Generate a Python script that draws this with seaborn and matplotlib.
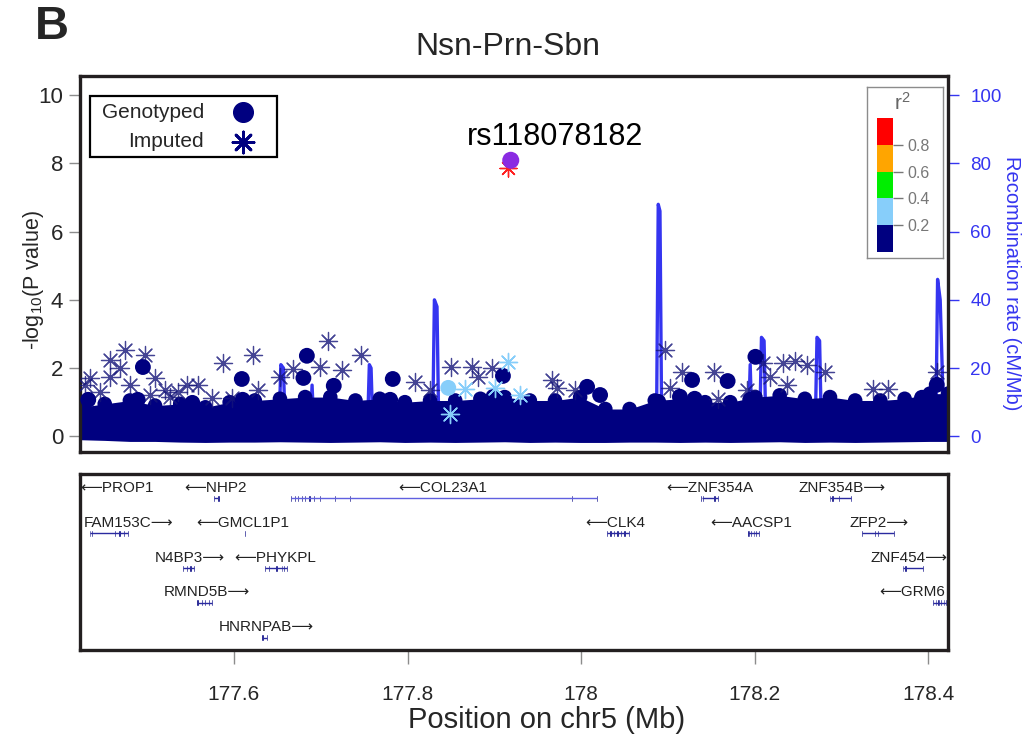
"""Regional association plot (LocusZoom style) for Nsn-Prn-Sbn on chr5."""

import matplotlib

matplotlib.use("Agg")
import matplotlib.pyplot as plt
import seaborn as sns
from matplotlib.patches import Rectangle

NAVY = "#000080"
STAR = "#15157a"
LIGHT = "#87CEFA"
RECOMB = "#3535F0"
GREY = "#8c8c8c"

# --- association results (position in Mb, -log10 P) -------------------------
genotyped_pos = [177.495, 177.684, 177.609, 177.680, 177.715, 177.783, 177.910, 177.899,
                 177.489, 177.610, 177.780, 177.552, 178.007, 178.128, 178.169, 178.201,
                 178.089, 178.114, 178.131, 178.410, 178.393, 178.195, 177.432, 178.022]
genotyped_logp = [2.03, 2.36, 1.68, 1.71, 1.48, 1.68, 1.77, 1.16,
                  1.07, 1.07, 1.07, 0.98, 1.45, 1.65, 1.62, 2.33,
                  1.01, 1.16, 1.10, 1.51, 1.13, 1.07, 1.07, 1.21]

imputed_pos = [177.474, 177.457, 177.497, 177.587, 177.622, 177.708, 177.746, 177.668,
               177.699, 177.725, 177.809, 177.850, 177.874, 177.881, 177.897, 177.434,
               177.457, 177.469, 177.546, 177.559, 177.526, 177.575, 177.598, 177.628,
               177.826, 177.653, 178.097, 177.967, 177.972, 177.993, 178.116, 178.103,
               178.233, 178.247, 178.261, 178.281, 178.237, 178.218, 178.337, 178.354,
               178.191, 178.158, 178.410, 178.210, 178.153, 177.428, 177.446, 177.480,
               177.509, 177.520, 177.535, 177.503]
imputed_logp = [2.53, 2.24, 2.39, 2.15, 2.39, 2.79, 2.39, 1.98,
                2.03, 1.95, 1.59, 2.03, 2.03, 1.74, 2.00, 1.71,
                1.74, 2.00, 1.51, 1.51, 1.16, 1.13, 1.13, 1.36,
                1.36, 1.74, 2.53, 1.65, 1.42, 1.36, 1.89, 1.42,
                2.15, 2.21, 2.09, 1.89, 1.51, 1.74, 1.39, 1.39,
                1.36, 1.10, 1.89, 2.15, 1.89, 1.51, 1.30, 1.51,
                1.71, 1.36, 1.30, 1.21]

# r2 0.2-0.4 with the lead SNP
ld_geno_pos = [177.847]
ld_geno_logp = [1.42]
ld_imp_pos = [177.866, 177.916, 177.849, 177.901, 177.930]
ld_imp_logp = [1.39, 2.18, 0.66, 1.42, 1.21]

lead_snp = "rs118078182"
lead_pos = 177.919
lead_logp = 8.09
lead_imp_logp = 7.86

# dense cloud of low-signal SNPs (upper / lower edge of the band)
band_pos = [177.4225, 177.451, 177.480, 177.509, 177.538, 177.567, 177.595, 177.624,
            177.653, 177.682, 177.711, 177.740, 177.768, 177.797, 177.826, 177.855,
            177.884, 177.912, 177.941, 177.970, 177.999, 178.028, 178.056, 178.085,
            178.114, 178.143, 178.172, 178.201, 178.229, 178.258, 178.287, 178.316,
            178.345, 178.373, 178.402, 178.423]
band_top = [0.85, 0.95, 1.05, 0.90, 0.95, 0.85, 1.00, 1.05,
            1.10, 1.15, 1.15, 1.05, 1.10, 1.00, 1.05, 1.05,
            1.10, 1.15, 1.05, 1.05, 1.15, 0.80, 0.80, 1.05,
            1.10, 1.00, 1.00, 1.15, 1.20, 1.10, 1.15, 1.05,
            1.05, 1.10, 1.25, 1.25]
band_low = [-0.10, -0.12, -0.15, -0.15, -0.17, -0.18, -0.17, -0.17,
            -0.16, -0.17, -0.18, -0.17, -0.16, -0.18, -0.17, -0.18,
            -0.17, -0.16, -0.18, -0.17, -0.18, -0.18, -0.17, -0.17,
            -0.18, -0.17, -0.18, -0.17, -0.16, -0.18, -0.17, -0.18,
            -0.17, -0.16, -0.15, -0.15]

# --- recombination rate (cM/Mb) ---------------------------------------------
recomb_pos = [177.4225, 177.55, 177.652, 177.654, 177.657, 177.659, 177.688, 177.690,
              177.692, 177.754, 177.756, 177.758, 177.760, 177.829, 177.831, 177.834,
              177.836, 177.95, 178.087, 178.089, 178.091, 178.093, 178.193, 178.195,
              178.197, 178.206, 178.208, 178.211, 178.213, 178.270, 178.272, 178.275,
              178.277, 178.409, 178.411, 178.414, 178.417, 178.423]
recomb_rate = [2, 3, 3, 21, 20, 3, 3, 15,
               3, 3, 21, 20, 3, 3, 40, 38,
               3, 2, 3, 68, 66, 3, 3, 21,
               3, 3, 29, 28, 3, 3, 29, 28,
               3, 3, 46, 40, 14, 3]

# --- genes -------------------------------------------------------------------
gene_names = ["PROP1", "NHP2", "COL23A1", "FAM153C", "GMCL1P1", "N4BP3", "PHYKPL",
              "RMND5B", "HNRNPAB", "ZNF354A", "ZNF354B", "CLK4", "AACSP1", "ZFP2",
              "ZNF454", "GRM6"]
gene_strand = ["-", "-", "-", "+", "-", "+", "-", "+", "+", "-", "+", "-", "-", "+", "+", "-"]
gene_row = [1, 1, 1, 2, 2, 3, 3, 4, 5, 1, 1, 2, 2, 2, 3, 4]
gene_label_x = [177.465, 177.579, 177.841, 177.478, 177.610, 177.549, 177.647,
                177.569, 177.637, 178.148, 178.301, 178.040, 178.196, 178.343,
                178.378, 178.382]
gene_exons = [
    [],
    [177.577, 177.582],
    [177.666, 177.670, 177.674, 177.678, 177.682, 177.687, 177.692, 177.699,
     177.716, 177.734, 177.990, 178.018],
    [177.434, 177.436, 177.463, 177.468, 177.473, 177.478],
    [177.613],
    [177.541, 177.546, 177.550, 177.554],
    [177.636, 177.640, 177.649, 177.655, 177.658, 177.661],
    [177.558, 177.563, 177.567, 177.571, 177.575],
    [177.633, 177.638],
    [178.139, 178.141, 178.154, 178.158],
    [178.287, 178.290, 178.297, 178.311],
    [178.030, 178.034, 178.038, 178.042, 178.046, 178.050, 178.055],
    [178.193, 178.196, 178.199, 178.202, 178.205],
    [178.324, 178.339, 178.342, 178.361],
    [178.371, 178.374, 178.394],
    [178.406, 178.409, 178.412, 178.415, 178.418, 178.421],
]

r2_breaks = [0.0, 0.2, 0.4, 0.6, 0.8, 1.0]
r2_colors = [NAVY, LIGHT, "#00EE00", "#FFA500", "#FF0000"]

x_ticks = [177.6, 177.8, 178.0, 178.2, 178.4]
x_tick_labels = ["177.6", "177.8", "178", "178.2", "178.4"]
XLIM = (177.4225, 178.423)

sns.set_theme(style="white")
plt.rcParams["font.family"] = ["Liberation Sans", "DejaVu Sans"]
plt.rcParams["mathtext.default"] = "regular"

W, H = 1023, 738
fig = plt.figure(figsize=(W / 100, H / 100), dpi=100)


def fig_box(x0, y0, x1, y1):
    return [x0 / W, 1 - y1 / H, (x1 - x0) / W, (y1 - y0) / H]


ax = fig.add_axes(fig_box(80, 76, 948, 452))
ax2 = ax.twinx()
ax2.set_zorder(ax.get_zorder() - 1)
ax.patch.set_visible(False)

# recombination rate, behind the points
sns.lineplot(x=recomb_pos, y=recomb_rate, ax=ax2, color=RECOMB, lw=2.4, sort=False)
ax2.set_ylim(-4.6, 105.6)
ax2.set_yticks([0, 20, 40, 60, 80, 100])
ax2.tick_params(axis="y", colors=RECOMB, labelsize=13.5, length=8, width=1, pad=8)
for s in ax2.spines.values():
    s.set_visible(False)

# association points
ax.fill_between(band_pos, band_low, band_top, color=NAVY, lw=0, zorder=2)
sns.scatterplot(x=band_pos, y=band_top, ax=ax, color=NAVY, s=110, edgecolor="none", zorder=2)
sns.scatterplot(x=imputed_pos, y=imputed_logp, ax=ax, marker=(8, 2, 0), s=170,
                color=STAR, linewidth=0.9, alpha=0.8, zorder=3)
sns.scatterplot(x=genotyped_pos, y=genotyped_logp, ax=ax, color=NAVY, s=130,
                edgecolor="none", zorder=3)
sns.scatterplot(x=ld_imp_pos, y=ld_imp_logp, ax=ax, marker=(8, 2, 0), s=170,
                color=LIGHT, linewidth=1.0, zorder=4)
sns.scatterplot(x=ld_geno_pos, y=ld_geno_logp, ax=ax, color=LIGHT, s=130,
                edgecolor="none", zorder=4)
sns.scatterplot(x=[lead_pos - 0.003], y=[lead_imp_logp], ax=ax, marker=(8, 2, 0), s=150,
                color="#FF2020", linewidth=1.0, zorder=5)
sns.scatterplot(x=[lead_pos], y=[lead_logp], ax=ax, color="#8A2BE2", s=150,
                edgecolor="none", zorder=6)
ax.text(177.970, 8.77, lead_snp, fontsize=22, ha="center", va="center", color="black")

ax.set_xlim(*XLIM)
ax.set_ylim(-0.46, 10.56)
ax.set_yticks([0, 2, 4, 6, 8, 10])
ax.set_xticks([])
ax.tick_params(axis="y", labelsize=16, length=8, width=1, color=GREY, left=True, pad=4)
ax.set_xlabel("")
ax.set_ylabel("")
for s in ax.spines.values():
    s.set_visible(True)
    s.set_color("#231f20")
    s.set_linewidth(2.4)

# marker legend
ax.add_patch(Rectangle((0.0115, 0.785), 0.2155, 0.162, transform=ax.transAxes,
                       fill=True, facecolor="white", edgecolor="black", lw=1.6, zorder=7))
ax.text(0.143, 0.904, "Genotyped", transform=ax.transAxes, fontsize=15, ha="right",
        va="center", zorder=8)
ax.text(0.143, 0.8245, "Imputed", transform=ax.transAxes, fontsize=15, ha="right",
        va="center", zorder=8)
ax.scatter([0.1878], [0.904], transform=ax.transAxes, s=200, color=NAVY, zorder=8)
ax.scatter([0.1878], [0.8245], transform=ax.transAxes, s=230, marker=(8, 2, 0),
           color=NAVY, linewidth=2, zorder=8)

# r2 legend
leg = fig.add_axes(fig_box(867, 87, 943, 258))
leg.set_xticks([])
leg.set_yticks([])
for s in leg.spines.values():
    s.set_color(GREY)
    s.set_linewidth(1)
leg.text(0.47, 0.905, "r$^2$", transform=leg.transAxes, fontsize=15, color="#666666",
         ha="center", va="center")
bar = fig.add_axes(fig_box(877, 118, 893, 252))
for lo, hi, c in zip(r2_breaks[:-1], r2_breaks[1:], r2_colors):
    bar.bar(0, hi - lo, bottom=lo, width=1, color=c, edgecolor="none")
bar.set_xlim(-0.5, 0.5)
bar.set_ylim(0, 1)
bar.set_xticks([])
bar.yaxis.tick_right()
bar.set_yticks(r2_breaks[1:-1])
bar.set_yticklabels([f"{b:.1f}" for b in r2_breaks[1:-1]])
bar.tick_params(axis="y", colors="#777777", labelsize=11.5, length=7, width=1, pad=3, right=True)
for s in bar.spines.values():
    s.set_visible(False)

# gene track
gax = fig.add_axes(fig_box(80, 474, 948, 650))
for name, strand, row, lx, exons in zip(gene_names, gene_strand, gene_row,
                                        gene_label_x, gene_exons):
    label = f"\u27f5{name}" if strand == "-" else f"{name}\u27f6"
    gax.text(lx, row - 0.30, label, fontsize=11, ha="center", va="center", color="#222222")
    if exons:
        line_c = "#6060E0" if name == "COL23A1" else "#2a2aA0"
        gax.hlines(row, min(exons), max(exons), color=line_c, lw=1)
        gax.broken_barh([(e - 0.0013, 0.0026) for e in exons], (row - 0.1, 0.2),
                        facecolor=NAVY)
gax.set_xlim(*XLIM)
gax.set_ylim(5.343, 0.314)
gax.set_yticks([])
gax.set_xticks(x_ticks)
gax.set_xticklabels(x_tick_labels)
gax.tick_params(axis="x", labelsize=15, length=10, width=1, color=GREY, bottom=True, pad=15)
for s in gax.spines.values():
    s.set_color("#231f20")
    s.set_linewidth(2.4)

fig.text(33 / W, 1 - 280 / H, "-log$_{10}$(P value)", rotation=90, fontsize=15.5,
         ha="center", va="center")
fig.text(1012 / W, 1 - 283 / H, "Recombination rate (cM/Mb)", rotation=-90, fontsize=14.5,
         color=RECOMB, ha="center", va="center")
fig.text(547 / W, 1 - 720 / H, "Position on chr5 (Mb)", fontsize=21, ha="center", va="center")
fig.text(508 / W, 1 - 47 / H, "Nsn-Prn-Sbn", fontsize=23, ha="center", va="center")
fig.text(52 / W, 1 - 27 / H, "B", fontsize=34, fontweight="bold", ha="center", va="center")

fig.savefig("out.png", dpi=100)
